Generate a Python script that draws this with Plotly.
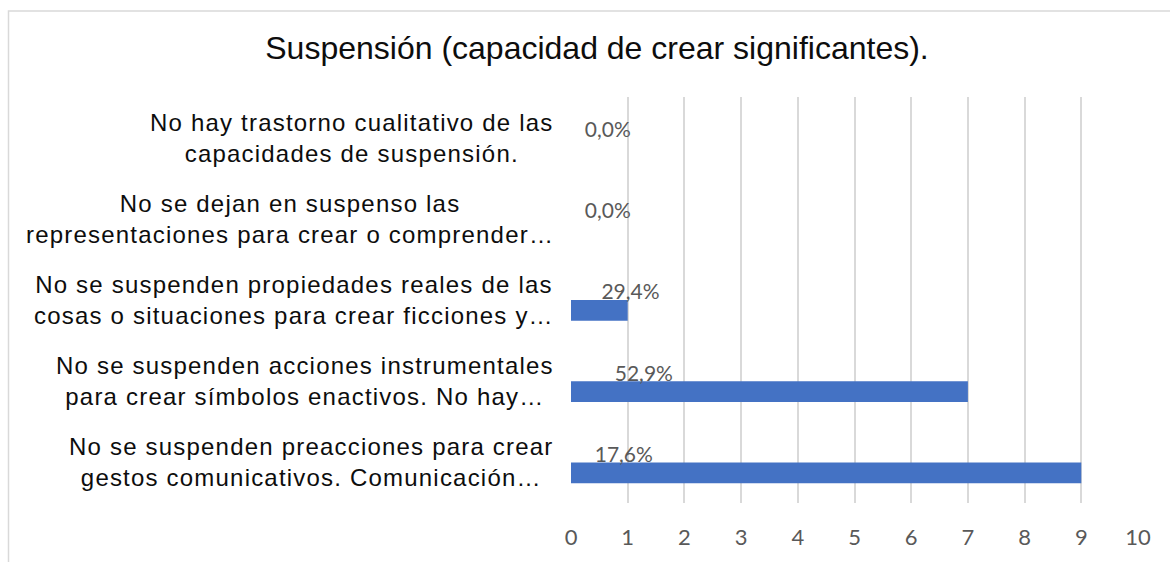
import plotly.graph_objects as go

categories = [
    "No se suspenden preacciones para crear<br>gestos comunicativos. Comunicación…",
    "No se suspenden acciones instrumentales<br>para crear símbolos enactivos. No hay…",
    "No se suspenden propiedades reales de las<br>cosas o situaciones para crear ficciones y…",
    "No se dejan en suspenso las<br>representaciones para crear o comprender…",
    "No hay trastorno cualitativo de las<br>capacidades de suspensión.",
]
counts = [9, 7, 1, 0, 0]
percents = [0.176, 0.529, 0.294, 0.0, 0.0]
percent_labels = ["17,6%", "52,9%", "29,4%", "0,0%", "0,0%"]
x_ticks = list(range(0, 11))

L, R, T, B = 571, 32, 97, 54
W, H = 1170, 562
pw, ph = W - L - R, H - T - B

NBSP = "\u00a0"

fig = go.Figure()
fig.add_trace(go.Bar(
    y=categories, x=counts, orientation="h",
    width=0.256, offset=-0.256,
    marker=dict(color="#4472C4", line=dict(width=0)),
    showlegend=False, hoverinfo="skip",
))
fig.add_trace(go.Bar(
    y=categories, x=percents, orientation="h",
    width=0.1, offset=0.062,
    marker=dict(color="rgba(0,0,0,0)", line=dict(width=0)),
    text=[NBSP * 2 + t for t in percent_labels], textposition="outside",
    cliponaxis=False, constraintext="none",
    textfont=dict(family="Lato, Open Sans, sans-serif", size=21, color="#595959"),
    showlegend=False, hoverinfo="skip",
))

annotations = []
for cat in categories:
    styled = "<br>".join(
        f'<span style="letter-spacing:1.2px">{line}</span>' for line in cat.split("<br>")
    )
    annotations.append(dict(
        x=(556 - L) / pw, xref="paper", y=cat, yref="y",
        text=styled, showarrow=False, xanchor="right", yanchor="middle", align="center",
        font=dict(family="Liberation Sans, Arial, sans-serif", size=24, color="#0d0d0d"),
    ))

fig.update_layout(
    width=W, height=H,
    margin=dict(l=L, r=R, t=T, b=B),
    paper_bgcolor="white", plot_bgcolor="white",
    barmode="overlay",
    title=dict(
        text="Suspensión (capacidad de crear significantes).",
        x=597 / W, xref="container", xanchor="center",
        y=1 - 48 / H, yref="container", yanchor="middle",
        font=dict(family="Liberation Sans, Arial, sans-serif", size=32, color="#0d0d0d"),
    ),
    xaxis=dict(
        range=[0, 10], tickvals=x_ticks, showgrid=True, gridcolor="#D9D9D9", gridwidth=1.5,
        zeroline=False, showline=False, ticks="", ticklabelstandoff=19,
        tickfont=dict(family="Lato, Open Sans, sans-serif", size=22, color="#595959"),
        fixedrange=True,
    ),
    yaxis=dict(
        showticklabels=False, showgrid=False, zeroline=False, showline=False,
        categoryorder="array", categoryarray=categories, range=[-0.5, 4.5],
        fixedrange=True,
    ),
    annotations=annotations,
    shapes=[dict(
        type="rect", xref="paper", yref="paper",
        x0=(8.5 - L) / pw, x1=(1180 - L) / pw,
        y0=(H - 580 - B) / ph, y1=(H - 10 - B) / ph,
        line=dict(color="#D9D9D9", width=1.5), fillcolor="rgba(0,0,0,0)", layer="below",
    )],
)

fig.write_html(
    "out.html",
    config={"displayModeBar": False},
    post_script="document.body.style.margin='0';document.body.style.padding='0';",
)
